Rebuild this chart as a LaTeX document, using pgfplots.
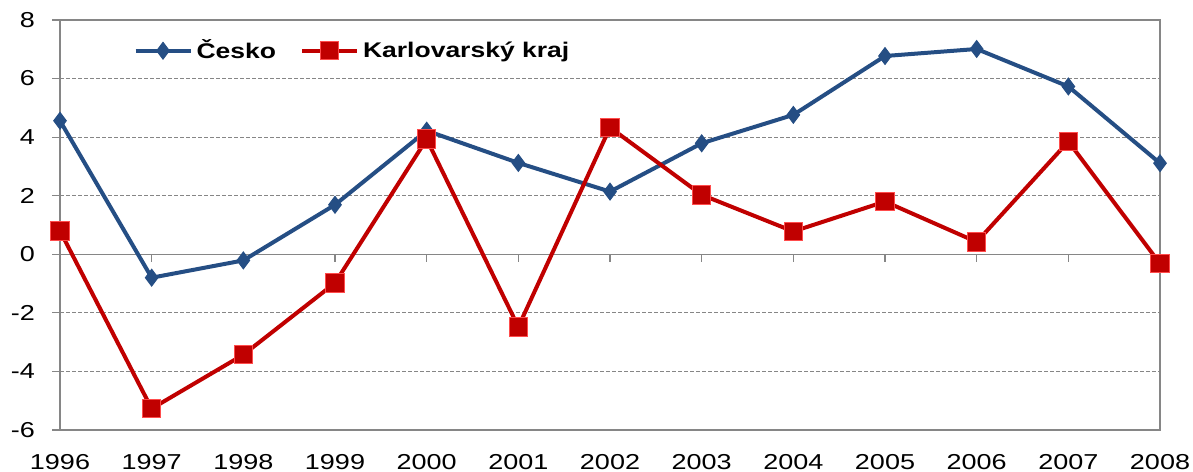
\documentclass[border=0pt]{standalone}
\usepackage{pgfplots}
\pgfplotsset{compat=1.18}
\usepackage{fontspec}
\setmainfont{Liberation Sans}[FakeStretch=1.25]
\definecolor{cblue}{HTML}{254E84}
\definecolor{cred}{HTML}{C00000}
\definecolor{axgray}{HTML}{868686}
\begin{document}
\begin{tikzpicture}
\begin{axis}[
  scale only axis, width=550pt, height=205pt,
  xmin=0, xmax=12, ymin=-6, ymax=8,
  xtick={0,1,2,3,4,5,6,7,8,9,10,11,12},
  xticklabels={1996,1997,1998,1999,2000,2001,2002,2003,2004,2005,2006,2007,2008},
  ytick={-6,-4,-2,0,2,4,6,8},
  yticklabels={-6,-4,-2,0,2,4,6,8},
  tick label style={font=\fontsize{10.8}{12}\selectfont},
  xticklabel style={yshift=-4.5pt},
  yticklabel style={xshift=-5pt},
  ymajorgrids,
  grid style={axgray, dash pattern=on 2pt off 1pt, line width=0.4pt},
  axis line style={axgray, line width=0.6pt},
  xtick style={draw=none},
  ytick style={axgray, line width=0.6pt},
  tick align=outside, major tick length=4pt,
  xtick pos=bottom, ytick pos=left,
  clip=false,
  legend columns=-1,
  legend style={draw=none, fill=none, at={(0.061,0.925)}, anchor=west,
    font=\bfseries\fontsize{10.6}{12}\selectfont,
    /tikz/every even column/.append style={column sep=10pt}},
  legend image code/.code={\draw[mark repeat=2,mark phase=2,#1] plot coordinates {(0pt,0pt) (13.75pt,0pt) (27.5pt,0pt)};},
]
\draw[axgray, line width=0.6pt] (axis cs:0,0) -- (axis cs:12,0);
\pgfplotsinvokeforeach{1,2,3,4,5,6,7,8,9,10,11}{
  \draw[axgray, line width=0.6pt] (axis cs:#1,0) -- ([yshift=-4pt]axis cs:#1,0);
}
\addplot[cblue, line width=2pt, mark=diamond*, mark size=4.2pt, mark options={fill=cblue, draw=cblue, line width=0.5pt}]
coordinates {
(0,4.56) (1,-0.80) (2,-0.21) (3,1.69) (4,4.22) (5,3.12) (6,2.14)
(7,3.79) (8,4.76) (9,6.77) (10,7.01) (11,5.73) (12,3.11)
};
\addlegendentry{Česko}
\addplot[cred, line width=2pt, mark=square*, mark size=4.6pt, mark options={fill=cred, draw=red!70!white, line width=0.5pt}]
coordinates {
(0,0.80) (1,-5.27) (2,-3.43) (3,-0.98) (4,3.93) (5,-2.48) (6,4.33)
(7,2.03) (8,0.78) (9,1.80) (10,0.42) (11,3.85) (12,-0.32)
};
\addlegendentry{Karlovarský kraj}
\coordinate (bl) at (rel axis cs:0,0);
\coordinate (tr) at (rel axis cs:1,1);
\end{axis}
\pgfresetboundingbox
\path[use as bounding box] ([shift={(-30pt,-21pt)}]bl) rectangle ([shift={(16.5pt,10pt)}]tr);
\end{tikzpicture}
\end{document}
